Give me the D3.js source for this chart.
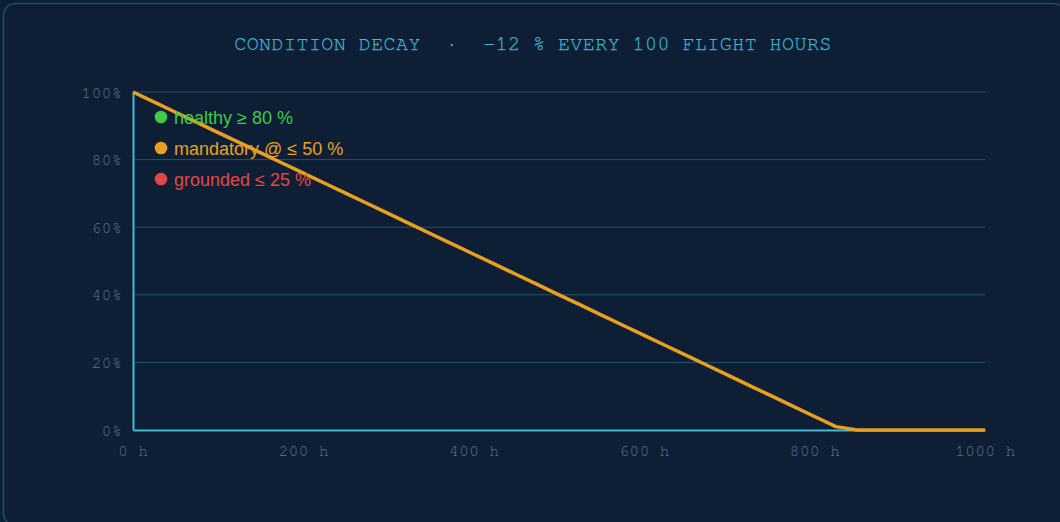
<!DOCTYPE html>
<html>
<head>
<meta charset="utf-8">
<script src="https://cdn.jsdelivr.net/npm/d3@7"></script>
<style>
  body { margin: 0; background: #0e1f35; overflow: hidden; }
  text { white-space: pre; }
  .tick-label { font-family: FreeMono, "TeX Gyre Cursor", "Courier New", monospace; font-size: 16px; fill: #5b7290; letter-spacing: 0.5px; }
  .title { font-family: FreeMono, "TeX Gyre Cursor", "Courier New", monospace; font-size: 20px; fill: #3db6d0; letter-spacing: 0.45px; stroke: #3db6d0; stroke-width: 0.25px; }
  .legend-label { font-family: "Liberation Sans", Arial, sans-serif; font-size: 18px; }
</style>
</head>
<body>
<div id="chart"></div>
<script>
// condition (%) sampled every 25 flight hours
const hours = [0, 25, 50, 75, 100, 125, 150, 175, 200, 225, 250, 275, 300, 325, 350, 375,
  400, 425, 450, 475, 500, 525, 550, 575, 600, 625, 650, 675, 700, 725, 750, 775,
  800, 825, 850, 875, 900, 925, 950, 975, 1000]
const condition = [100, 97, 94, 91, 88, 85, 82, 79, 76, 73, 70, 67, 64, 61, 58, 55,
  52, 49, 46, 43, 40, 37, 34, 31, 28, 25, 22, 19, 16, 13, 10, 7,
  4, 1, 0, 0, 0, 0, 0, 0, 0]
const xTicks = [0, 200, 400, 600, 800, 1000]
const yTicks = [0, 20, 40, 60, 80, 100]
const legendLabels = ["healthy \u2265 80 %", "mandatory @ \u2264 50 %", "grounded \u2264 25 %"]
const titleText = "CONDITION DECAY  \u00b7  \u221212 % EVERY 100 FLIGHT HOURS"

const dataset = hours.map((h, i) => ({ h, c: condition[i] }))

let dimensions = {
  width: 1060,
  height: 522,
  margin: { top: 92, right: 75, bottom: 92, left: 133 },
}
dimensions.boundedWidth = dimensions.width - dimensions.margin.left - dimensions.margin.right
dimensions.boundedHeight = dimensions.height - dimensions.margin.top - dimensions.margin.bottom

const wrapper = d3.select("#chart")
  .append("svg")
    .attr("width", dimensions.width)
    .attr("height", dimensions.height)

// panel
wrapper.append("rect")
  .attr("x", 3.5)
  .attr("y", 3.5)
  .attr("width", 1062)
  .attr("height", 522)
  .attr("rx", 12)
  .attr("fill", "#0e1f35")
  .attr("stroke", "#1f4f62")
  .attr("stroke-width", 1.5)

wrapper.append("text")
  .attr("class", "title")
  .attr("x", 533)
  .attr("y", 50)
  .attr("text-anchor", "middle")
  .text(titleText)

const bounds = wrapper.append("g")
  .attr("transform", `translate(${dimensions.margin.left}, ${dimensions.margin.top})`)

const xScale = d3.scaleLinear()
  .domain([0, 1000])
  .range([0, dimensions.boundedWidth])

const yScale = d3.scaleLinear()
  .domain([0, 100])
  .range([dimensions.boundedHeight, 0])

// grid
bounds.append("g")
  .selectAll("line")
  .data(yTicks.filter(d => d > 0))
  .join("line")
    .attr("x1", 0)
    .attr("x2", dimensions.boundedWidth)
    .attr("y1", d => yScale(d))
    .attr("y2", d => yScale(d))
    .attr("stroke", "#1e5668")
    .attr("stroke-width", 1)

// axes
const yAxisGenerator = d3.axisLeft(yScale)
  .tickValues(yTicks)
  .tickSize(0)
  .tickPadding(11)
  .tickFormat(d => d + "%")
const yAxis = bounds.append("g").call(yAxisGenerator)
yAxis.select(".domain").attr("stroke", "#3bbcd6").attr("stroke-width", 2)
yAxis.selectAll("text").attr("class", "tick-label").attr("fill", null).attr("font-family", null).attr("font-size", null)

const xAxisGenerator = d3.axisBottom(xScale)
  .tickValues(xTicks)
  .tickSize(0)
  .tickPadding(15)
  .tickFormat(d => d + " h")
const xAxis = bounds.append("g")
  .attr("transform", `translate(0, ${dimensions.boundedHeight})`)
  .call(xAxisGenerator)
xAxis.select(".domain").attr("stroke", "#3bbcd6").attr("stroke-width", 2)
xAxis.selectAll("text").attr("class", "tick-label").attr("fill", null).attr("font-family", null).attr("font-size", null)

// line
const lineGenerator = d3.line()
  .x(d => xScale(d.h))
  .y(d => yScale(d.c))
bounds.append("path")
  .attr("d", lineGenerator(dataset))
  .attr("fill", "none")
  .attr("stroke", "#e9a021")
  .attr("stroke-width", 3.5)
  .attr("stroke-linejoin", "round")

// legend
const legendColors = ["#3ecb47", "#e9a021", "#e04848"]
const legend = bounds.append("g")
  .attr("transform", "translate(28, 25)")
const items = legend.selectAll("g")
  .data(legendLabels)
  .join("g")
    .attr("transform", (d, i) => `translate(0, ${i * 31})`)
items.append("circle")
  .attr("r", 6.3)
  .attr("fill", (d, i) => legendColors[i])
items.append("text")
  .attr("class", "legend-label")
  .attr("x", 13)
  .attr("y", 6.5)
  .attr("fill", (d, i) => legendColors[i])
  .text(d => d)
</script>
</body>
</html>
